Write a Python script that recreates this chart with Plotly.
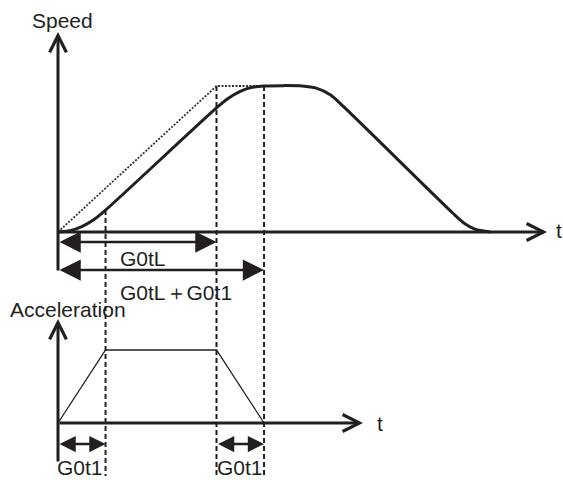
import plotly.graph_objects as go

# ---- data (time units: G0tL = 10, G0t1 = 3) ----
G0tL = 10.0
G0t1 = 3.0

speed_t = [0, 0.75, 1.5, 2.25, 3, 10, 10.75, 11.5, 12.25, 13, 15.4, 16.3, 17.2, 18.0, 24.9, 25.6, 26.3, 27.3]
speed_v = [0, 0.09, 0.37, 0.84, 1.5, 8.5, 9.16, 9.63, 9.91, 10, 10, 9.85, 9.38, 8.6, 1.3, 0.62, 0.2, 0]

ideal_t = [0, 10, 13]
ideal_v = [0, 10, 10]

acc_t = [0, 3, 10, 13]
acc_a = [0, 1, 1, 0]

marker_t = [3, 10, 13]          # dashed guide positions
marker_top = [1.5, 10, 10]      # where each guide starts on the speed curve

INK = "#231f20"
FONT = dict(family="Liberation Sans, Arial, sans-serif", size=21, color=INK)

# axis scales (px per unit)
XR = [-58 / 15.85, (563 - 58) / 15.85]
YR_SPEED = [(232 - 480) / 14.6, 232 / 14.6]
YR_ACC = [(423 - 480) / 73, 423 / 73]
GUIDE_BOTTOM = (232 - 476) / 14.6

fig = go.Figure()

# dashed guides
for t, top in zip(marker_t, marker_top):
    fig.add_trace(go.Scatter(x=[t, t], y=[top, GUIDE_BOTTOM], mode="lines",
                             line=dict(color=INK, width=2, dash="5px,3px"),
                             xaxis="x", yaxis="y", hoverinfo="skip"))

# ideal (dotted) speed
fig.add_trace(go.Scatter(x=ideal_t, y=ideal_v, mode="lines",
                         line=dict(color="#333333", width=1.8, dash="2px,1.5px"),
                         xaxis="x", yaxis="y", hoverinfo="skip"))
# speed curve
fig.add_trace(go.Scatter(x=speed_t, y=speed_v, mode="lines",
                         line=dict(color=INK, width=3, shape="spline", smoothing=0.8),
                         xaxis="x", yaxis="y", hoverinfo="skip"))
# acceleration
fig.add_trace(go.Scatter(x=acc_t, y=acc_a, mode="lines",
                         line=dict(color=INK, width=1.3),
                         xaxis="x", yaxis="y2", hoverinfo="skip"))

ann = []

def arrow(x0, y0, x1, y1, yref, both=False, axis=False, size=1.7):
    d = dict(x=x1, y=y1, ax=x0, ay=y0, xref="x", yref=yref, axref="x", ayref=yref,
             text="", showarrow=True, arrowcolor=INK, standoff=0, startstandoff=0)
    if axis:
        d.update(arrowhead=5, arrowsize=1.1, arrowwidth=3)
    else:
        d.update(arrowhead=2, arrowsize=size, arrowwidth=2.5)
        if both:
            d.update(arrowside="end+start", startarrowhead=2, startarrowsize=size)
    ann.append(d)

# speed axes
arrow(0, (232 - 272) / 14.6, 0, (232 - 32) / 14.6, "y", axis=True)
arrow(0, 0, (547 - 58) / 15.85, 0, "y", axis=True)
# dimension arrows (upper)
arrow(0, (232 - 242) / 14.6, G0tL, (232 - 242) / 14.6, "y", both=True)
arrow(0, (232 - 270) / 14.6, G0tL + G0t1, (232 - 270) / 14.6, "y", both=True)
# acceleration axes
arrow(0, (423 - 463) / 73, 0, (423 - 319) / 73, "y2", axis=True)
arrow(0, 0, (363 - 58) / 15.85, 0, "y2", axis=True)
# dimension arrows (lower)
arrow(0, (423 - 444) / 73, G0t1, (423 - 444) / 73, "y2", both=True, size=1.3)
arrow(G0tL, (423 - 444) / 73, G0tL + G0t1, (423 - 444) / 73, "y2", both=True, size=1.3)

def label(text, x, y, yref, xanchor="center"):
    ann.append(dict(text=text, x=x, y=y, xref="x", yref=yref, showarrow=False,
                    xanchor=xanchor, yanchor="middle", font=FONT))

label("Speed", (62 - 58) / 15.85, (232 - 20) / 14.6, "y")
label("t", (559 - 58) / 15.85, (232 - 230) / 14.6, "y")
label("G0tL", (118 - 58) / 15.85, (232 - 258) / 14.6, "y", xanchor="left")
label("G0tL＋G0t1", (118 - 58) / 15.85, (232 - 292) / 14.6, "y", xanchor="left")
label("Acceleration", (8 - 58) / 15.85, (423 - 309) / 73, "y2", xanchor="left")
label("t", (380 - 58) / 15.85, 0, "y2")
label("G0t1", (80 - 58) / 15.85, (423 - 467) / 73, "y2")
label("G0t1", (240 - 58) / 15.85, (423 - 467) / 73, "y2")

hidden = dict(visible=False, showgrid=False, zeroline=False, fixedrange=True)
fig.update_layout(
    width=563, height=480,
    margin=dict(l=0, r=0, t=0, b=0),
    paper_bgcolor="white", plot_bgcolor="white",
    showlegend=False,
    xaxis=dict(range=XR, domain=[0, 1], **hidden),
    yaxis=dict(range=YR_SPEED, domain=[0, 1], **hidden),
    yaxis2=dict(range=YR_ACC, overlaying="y", **hidden),
    annotations=ann,
)

fig.write_html("out.html", config={"displayModeBar": False},
               post_script="document.body.style.margin='0';document.body.style.overflow='hidden';")
